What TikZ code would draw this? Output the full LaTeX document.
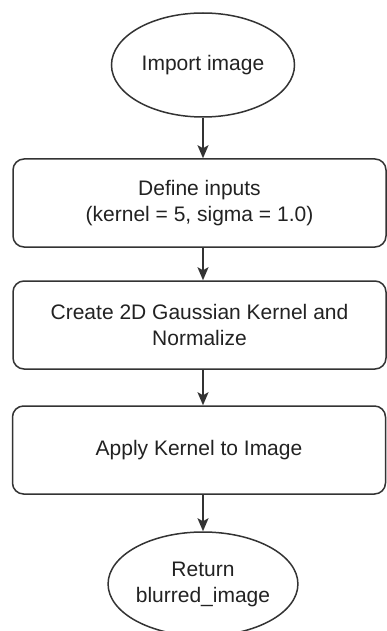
\documentclass[tikz,border=0pt]{standalone}
\usepackage{fontspec}
\setmainfont{Liberation Sans}
\usetikzlibrary{shapes.geometric,arrows.meta}
\definecolor{ln}{HTML}{333333}
\definecolor{txt}{HTML}{222222}
\begin{document}
\begin{tikzpicture}[x=1pt,y=-1pt,
  every node/.style={font=\fontsize{21}{26}\selectfont, text=txt, align=center},
  term/.style={ellipse, draw=ln, line width=1.5pt, minimum width=183pt, minimum height=104pt, inner sep=0pt},
  proc/.style={rectangle, rounded corners=11pt, draw=ln, line width=1.5pt, minimum width=373pt, minimum height=88pt},
  flow/.style={draw=ln, line width=1.5pt, -{Stealth[length=13pt,width=11pt,inset=3pt]}}
]
\useasboundingbox (0,0) rectangle (387,631);
\fill[white] (0,0) rectangle (387,631);
\node[term] (start) at (203,65) {Import image};
\node[proc] (def) at (199.5,203) {Define inputs\\(kernel = 5, sigma = 1.0)};
\node[proc] (gauss) at (199.5,325) {Create 2D Gaussian Kernel and\\Normalize};
\node[proc] (apply) at (199,450) {Apply Kernel to Image};
\node[term] (ret) at (203,584) {Return\\blurred\_image};
\draw[flow] (start.south) -- (start.south |- def.north);
\draw[flow] (start.south |- def.south) -- (start.south |- gauss.north);
\draw[flow] (start.south |- gauss.south) -- (start.south |- apply.north);
\draw[flow] (start.south |- apply.south) -- (ret.north);
\end{tikzpicture}
\end{document}
